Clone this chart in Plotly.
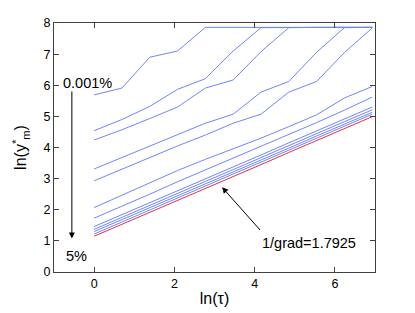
import plotly.graph_objects as go

# x positions: ln(tau) for tau = 1, 2, 4, ..., 1024
ln_tau = [0.0, 0.693, 1.386, 2.079, 2.773, 3.466, 4.159, 4.852, 5.545, 6.238, 6.931]

line_1 = [5.69, 5.91, 6.90, 7.10, 7.86, 7.86, 7.86, 7.86, 7.86, 7.86, 7.86]
line_2 = [4.54, 4.90, 5.32, 5.87, 6.21, 7.10, 7.85, 7.86, 7.86, 7.86, 7.86]
line_3 = [4.24, 4.57, 4.93, 5.30, 5.91, 6.17, 7.08, 7.85, 7.86, 7.86, 7.86]
line_4 = [3.31, 3.68, 4.05, 4.40, 4.78, 5.07, 5.78, 6.12, 7.06, 7.85, 7.86]
line_5 = [2.93, 3.31, 3.68, 4.05, 4.40, 4.78, 5.07, 5.78, 6.12, 7.05, 7.84]
line_6 = [2.07, 2.46, 2.86, 3.26, 3.62, 3.95, 4.30, 4.67, 5.05, 5.59, 5.96]
line_7 = [1.73, 2.11, 2.50, 2.90, 3.28, 3.65, 4.02, 4.40, 4.80, 5.20, 5.62]
line_8 = [1.46, 1.84, 2.23, 2.61, 3.00, 3.38, 3.76, 4.15, 4.53, 4.92, 5.30]
line_9 = [1.37, 1.76, 2.14, 2.52, 2.91, 3.29, 3.68, 4.06, 4.44, 4.83, 5.21]
line_10 = [1.30, 1.68, 2.07, 2.45, 2.83, 3.22, 3.60, 3.98, 4.37, 4.75, 5.13]
line_11 = [1.22, 1.61, 1.99, 2.38, 2.76, 3.15, 3.53, 3.91, 4.30, 4.68, 5.07]
fit_line = [1.15, 1.53, 1.92, 2.30, 2.69, 3.07, 3.45, 3.84, 4.22, 4.61, 4.99]

blue_lines = [line_1, line_2, line_3, line_4, line_5, line_6,
              line_7, line_8, line_9, line_10, line_11]

x_ticks = [0, 2, 4, 6]
y_ticks = [0, 1, 2, 3, 4, 5, 6, 7, 8]

BLUE = "#7085ff"
RED = "#e8323c"
FONT = "Arial, Liberation Sans, Helvetica, sans-serif"

fig = go.Figure()
for ys in blue_lines:
    fig.add_trace(go.Scatter(x=ln_tau, y=ys, mode="lines",
                             line=dict(color=BLUE, width=1), showlegend=False))
fig.add_trace(go.Scatter(x=ln_tau, y=fit_line, mode="lines",
                         line=dict(color=RED, width=1), showlegend=False))

axis_common = dict(showline=True, linecolor="#404040", linewidth=1,
                   mirror="ticks", ticks="inside", ticklen=5,
                   tickcolor="#404040", showgrid=False, zeroline=False,
                   automargin=False,
                   tickfont=dict(size=12.5, color="black", family=FONT))

fig.update_xaxes(range=[-1, 7], tickvals=x_ticks,
                 title=dict(text="ln(τ)", font=dict(size=16, family=FONT, color="black"),
                            standoff=2),
                 **axis_common)
fig.update_yaxes(range=[0, 8], tickvals=y_ticks,
                 title=dict(text="ln(y<sup>*</sup><sub>m</sub>)",
                            font=dict(size=16, family=FONT, color="black"),
                            standoff=12),
                 **axis_common)

annotations = [
    dict(x=-0.16, y=6.08, xref="x", yref="y", text="0.001%", showarrow=False,
         font=dict(size=14.5, family=FONT, color="black")),
    dict(x=-0.43, y=0.51, xref="x", yref="y", text="5%", showarrow=False,
         font=dict(size=14.5, family=FONT, color="black")),
    dict(x=5.36, y=0.92, xref="x", yref="y", text="1/grad=1.7925", showarrow=False,
         font=dict(size=14.5, family=FONT, color="black")),
    dict(x=-0.555, y=1.08, ax=-0.555, ay=5.85, xref="x", yref="y",
         axref="x", ayref="y", text="", showarrow=True, arrowhead=2,
         arrowsize=1.2, arrowwidth=1, arrowcolor="black", standoff=0),
    dict(x=3.19, y=2.72, ax=4.17, ay=1.30, xref="x", yref="y",
         axref="x", ayref="y", text="", showarrow=True, arrowhead=2,
         arrowsize=1.2, arrowwidth=1, arrowcolor="black", standoff=0),
]

# page body adds an 8px offset; margins compensate so the plot area lands
# at the reference position
fig.update_layout(width=415, height=313,
                  margin=dict(l=46, r=48, t=15, b=49),
                  paper_bgcolor="white", plot_bgcolor="white",
                  font=dict(family=FONT, color="black"),
                  annotations=annotations, showlegend=False)

fig.write_html("out.html")
